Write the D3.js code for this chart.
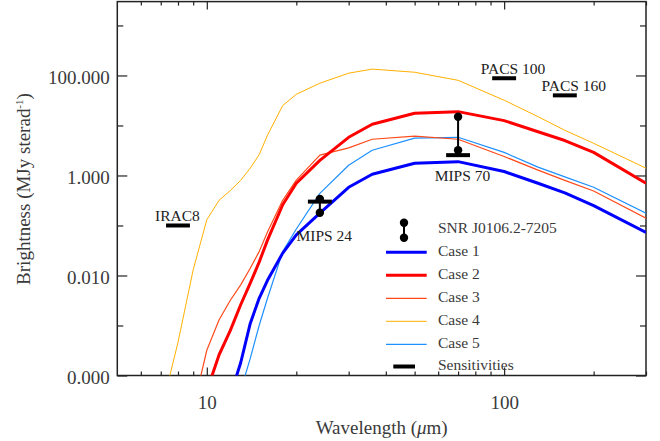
<!DOCTYPE html>
<html><head><meta charset="utf-8">
<script src="https://cdn.jsdelivr.net/npm/d3@7"></script>
<style>
html,body{margin:0;padding:0;background:#fff;}
text{font-family:"Liberation Serif","Times New Roman",serif;}
</style></head>
<body>
<script>
// ---- data ----
const wavelengths = [7, 8, 9, 10, 11, 12, 13, 14, 15, 16, 18, 20, 24, 30, 36, 50, 70, 100, 130, 160, 200, 300];
const case1 = [1e-8, 1e-7, 1e-6, 4e-6, 1.2e-5, 4e-5, 1.8e-4, 1.1e-3, 3.5e-3, 8e-3, 0.028, 0.065, 0.176, 0.58, 1.06, 1.76, 1.89, 1.2, 0.70, 0.45, 0.25, 0.073];
const case2 = [5e-8, 5e-7, 5e-6, 4.9e-5, 2.6e-4, 8e-4, 2.6e-3, 7e-3, 0.0185, 0.051, 0.26, 0.7, 2.0, 5.8, 10.6, 17.6, 18.9, 12.5, 7.5, 5.0, 2.9, 0.7];
const case3 = [1e-7, 1e-6, 2.2e-5, 3.2e-4, 1.3e-3, 3.2e-3, 6.5e-3, 0.014, 0.03, 0.074, 0.32, 0.81, 2.55, 3.56, 5.3, 6.1, 5.3, 2.4, 1.28, 0.8, 0.49, 0.14];
const case4 = [1.8e-5, 4.6e-4, 0.013, 0.13, 0.32, 0.5, 0.8, 1.4, 2.6, 6.4, 25, 42, 70, 111, 134, 116, 80, 32, 15, 8.0, 4.4, 1.4];
const case5 = [1e-9, 1e-8, 1e-7, 5e-7, 2e-6, 1e-5, 5e-5, 2.2e-4, 1.0e-3, 3.5e-3, 0.03, 0.085, 0.44, 1.6, 3.2, 5.6, 5.8, 2.9, 1.47, 0.94, 0.58, 0.176];
const seriesNames = ["Case 1", "Case 2", "Case 3", "Case 4", "Case 5"];

const snrWavelengths = [24, 70];
const snrLow = [0.18, 3.2];
const snrHigh = [0.34, 14.9];
const snrName = "SNR J0106.2-7205";

const sensNames = ["IRAC8", "MIPS 24", "MIPS 70", "PACS 100", "PACS 160"];
const sensWavelengths = [8, 24, 70, 100, 160];
const sensValues = [0.1, 0.30, 2.55, 88, 40];

const xMajorTicks = [10, 100];
const xMinorTicks = [6, 7, 8, 9, 20, 30, 40, 50, 60, 70, 80, 90, 200, 300];
const yMajorTicks = [1e-4, 1e-2, 1, 100];
const yMinorTicks = [1e-3, 0.1, 10, 1000];

// ---- styles / layout ----
const colors = ["#0000ff", "#ff0000", "#ff4a1a", "#ffb000", "#1e90ff"];
const widths = [3, 3, 1.2, 1, 1.2];
const L = 117.3, R = 646, T = 1.6, B = 375.5;
const labelOffsets = { "IRAC8": [-23, -4], "MIPS 24": [-23.3, 39], "MIPS 70": [-23.4, 26], "PACS 100": [-23.4, -4], "PACS 160": [-23.3, -4] };

const svg = d3.select("body").append("svg").attr("width", 660).attr("height", 441);

const x = d3.scaleLog().domain([5, 300]).range([L, R]);
const y = d3.scaleLog().domain([1e-4, 3000]).range([B, T]);

svg.append("clipPath").attr("id", "clip").append("rect")
  .attr("x", L).attr("y", T).attr("width", R - L).attr("height", B - T);

const tickColor = "#222";
function styleAxis(g) {
  g.select(".domain").remove();
  g.selectAll(".tick line").attr("stroke", tickColor).attr("stroke-width", 1.2);
  g.selectAll("text").attr("fill", "#3a3a3a").style("font-size", "19px").attr("font-family", "Liberation Serif");
}
// bottom
svg.append("g").attr("transform", `translate(0,${B})`)
  .call(d3.axisBottom(x).tickValues(xMajorTicks).tickSize(-8).tickPadding(20).tickFormat(d3.format("d")))
  .call(styleAxis);
svg.append("g").attr("transform", `translate(0,${B})`)
  .call(d3.axisBottom(x).tickValues(xMinorTicks).tickSize(-4).tickFormat(""))
  .call(styleAxis);
// top
svg.append("g").attr("transform", `translate(0,${T})`)
  .call(d3.axisTop(x).tickValues(xMajorTicks).tickSize(-8).tickFormat(""))
  .call(styleAxis);
svg.append("g").attr("transform", `translate(0,${T})`)
  .call(d3.axisTop(x).tickValues(xMinorTicks).tickSize(-4).tickFormat(""))
  .call(styleAxis);
// left
const gl = svg.append("g").attr("transform", `translate(${L},0)`)
  .call(d3.axisLeft(y).tickValues(yMajorTicks).tickSize(-10).tickPadding(7.5).tickFormat(d3.format(".3f")))
  .call(styleAxis);
gl.selectAll("text").attr("dy", "0.42em");
svg.append("g").attr("transform", `translate(${L},0)`)
  .call(d3.axisLeft(y).tickValues(yMinorTicks).tickSize(-6).tickFormat(""))
  .call(styleAxis);
// right
svg.append("g").attr("transform", `translate(${R},0)`)
  .call(d3.axisRight(y).tickValues(yMajorTicks).tickSize(-10).tickFormat(""))
  .call(styleAxis);
svg.append("g").attr("transform", `translate(${R},0)`)
  .call(d3.axisRight(y).tickValues(yMinorTicks).tickSize(-6).tickFormat(""))
  .call(styleAxis);

// frame
svg.append("rect").attr("x", L).attr("y", T).attr("width", R - L).attr("height", B - T)
  .attr("fill", "none").attr("stroke", "#222").attr("stroke-width", 1.5);

// axis titles
svg.append("text").attr("x", (L + R) / 2).attr("y", 434).attr("text-anchor", "middle")
  .attr("fill", "#3a3a3a").style("font-size", "19px")
  .call(t => { t.append("tspan").text("Wavelength ("); t.append("tspan").attr("font-style", "italic").text("μ"); t.append("tspan").text("m)"); });
svg.append("text").attr("transform", "translate(29.5,189) rotate(-90)").attr("text-anchor", "middle")
  .attr("fill", "#3a3a3a").style("font-size", "19px")
  .call(t => {
    t.append("tspan").text("Brightness (MJy sterad");
    t.append("tspan").attr("dy", -7).style("font-size", "11px").text("-1");
    t.append("tspan").attr("dy", 7).text(")");
  });

// model lines
const allCases = [case1, case2, case3, case4, case5];
const line = d3.line().x(d => x(d[0])).y(d => y(d[1]));
const plot = svg.append("g").attr("clip-path", "url(#clip)");
// draw in order: case4, case5, case3, case1, case2
[3, 4, 2, 0, 1].forEach(i => {
  plot.append("path").datum(wavelengths.map((w, j) => [w, allCases[i][j]]))
    .attr("d", line).attr("fill", "none").attr("stroke", colors[i]).attr("stroke-width", widths[i])
    .attr("stroke-linejoin", "round");
});

// sensitivities
const halfW = 1.097;
sensNames.forEach((n, i) => {
  const w = sensWavelengths[i], v = sensValues[i];
  svg.append("line").attr("x1", x(w / halfW)).attr("x2", x(w * halfW)).attr("y1", y(v)).attr("y2", y(v))
    .attr("stroke", "#000").attr("stroke-width", 4);
  const off = labelOffsets[n];
  svg.append("text").attr("x", x(w) + off[0]).attr("y", y(v) + off[1]).attr("fill", "#222")
    .style("font-size", "15.5px").text(n);
});

// SNR data
snrWavelengths.forEach((w, i) => {
  svg.append("line").attr("x1", x(w)).attr("x2", x(w)).attr("y1", y(snrLow[i])).attr("y2", y(snrHigh[i]))
    .attr("stroke", "#000").attr("stroke-width", 2);
  [snrLow[i], snrHigh[i]].forEach(v => svg.append("circle").attr("cx", x(w)).attr("cy", y(v)).attr("r", 4.2).attr("fill", "#000"));
});

// legend
const lg = svg.append("g");
const rowY = [229.3, 252.3, 275.3, 298.3, 321.3, 344.3, 366.5];
const lx1 = 386, lx2 = 426.7, tx = 438;
lg.append("line").attr("x1", 404).attr("x2", 404).attr("y1", rowY[0] - 6.5).attr("y2", rowY[0] + 8.5).attr("stroke", "#000").attr("stroke-width", 2);
lg.append("circle").attr("cx", 404).attr("cy", rowY[0] - 6.5).attr("r", 4.2).attr("fill", "#000");
lg.append("circle").attr("cx", 404).attr("cy", rowY[0] + 8.5).attr("r", 4.2).attr("fill", "#000");
lg.append("text").attr("x", tx).attr("y", rowY[0] + 4).attr("fill", "#3a3a3a").style("font-size", "15.5px").text(snrName);
seriesNames.forEach((n, i) => {
  const yy = rowY[i + 1];
  lg.append("line").attr("x1", lx1).attr("x2", lx2).attr("y1", yy).attr("y2", yy).attr("stroke", colors[i]).attr("stroke-width", widths[i]);
  lg.append("text").attr("x", tx).attr("y", yy + 4).attr("fill", "#3a3a3a").style("font-size", "15.5px").text(n);
});
lg.append("line").attr("x1", 393.3).attr("x2", 415).attr("y1", rowY[6]).attr("y2", rowY[6]).attr("stroke", "#000").attr("stroke-width", 4);
lg.append("text").attr("x", tx).attr("y", rowY[6] + 3).attr("fill", "#3a3a3a").style("font-size", "15.5px").text("Sensitivities");
</script>
</body></html>
